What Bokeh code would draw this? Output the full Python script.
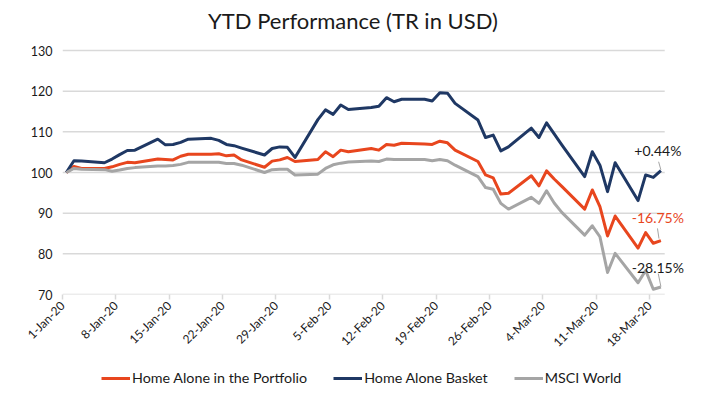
import pandas as pd
from bokeh.plotting import figure
from bokeh.layouts import column
from bokeh.models import Range1d, FixedTicker, Legend, LegendItem, Label
from bokeh.embed import file_html
from bokeh.resources import INLINE
from math import pi

dates = (["2020-01-%02d" % d for d in [1, 2, 3, 6, 7, 8, 9, 10, 13, 14, 15, 16, 17, 20, 21, 22, 23, 24, 27, 28, 29, 30, 31]]
         + ["2020-02-%02d" % d for d in [3, 4, 5, 6, 7, 10, 11, 12, 13, 14, 17, 18, 19, 20, 21, 24, 25, 26, 27, 28]]
         + ["2020-03-%02d" % d for d in [2, 3, 4, 5, 6, 9, 10, 11, 12, 13, 16, 17, 18, 19]])

basket = [100, 102.9, 102.8, 102.4, 103.3, 104.4, 105.4, 105.5, 108.2, 106.8, 106.9, 107.4, 108.2, 108.4, 107.9,
          106.9, 106.6, 106.0, 104.3, 105.9, 106.3, 106.2, 103.7,
          113.0, 115.4, 114.3, 116.6, 115.5, 116.0, 116.3, 118.4, 117.4, 118.0, 118.0, 117.6, 119.6, 119.5, 117.0,
          112.9, 108.6, 109.2, 105.3, 106.3,
          110.9, 108.6, 112.2, 109.5, 106.8, 99.0, 105.1, 101.8, 95.3, 102.4, 93.1, 99.4, 98.8, 100.44]

portfolio = [100, 101.5, 101.0, 101.0, 101.4, 102.0, 102.5, 102.4, 103.3, 103.2, 103.1, 104.0, 104.5, 104.5, 104.6,
             104.1, 104.3, 103.1, 101.3, 102.8, 103.1, 103.7, 102.7,
             103.2, 105.1, 103.9, 105.5, 105.1, 105.9, 105.5, 106.9, 106.7, 107.2, 107.0, 106.9, 107.7, 107.3, 105.5,
             102.7, 99.4, 98.7, 94.7, 94.9,
             99.2, 96.7, 100.4, 98.4, 96.6, 91.0, 95.7, 91.6, 84.4, 89.3, 81.4, 85.2, 82.6, 83.25]

msci = [100, 101.0, 100.8, 100.7, 100.3, 100.6, 101.0, 101.2, 101.6, 101.6, 101.7, 102.0, 102.5, 102.5, 102.5,
        102.2, 102.2, 101.8, 100.0, 100.7, 100.8, 100.8, 99.4,
        99.6, 101.0, 101.9, 102.3, 102.6, 102.8, 102.7, 103.3, 103.2, 103.2, 103.2, 102.9, 103.2, 102.9, 101.8,
        99.0, 96.3, 95.9, 92.4, 91.0,
        93.9, 92.4, 95.5, 92.5, 90.2, 84.6, 86.9, 84.2, 75.4, 80.1, 72.9, 75.9, 71.3, 71.85]

tick_dates = ["2020-01-01", "2020-01-08", "2020-01-15", "2020-01-22", "2020-01-29", "2020-02-05",
              "2020-02-12", "2020-02-19", "2020-02-26", "2020-03-04", "2020-03-11", "2020-03-18"]
tick_labels = ["1-Jan-20", "8-Jan-20", "15-Jan-20", "22-Jan-20", "29-Jan-20", "5-Feb-20",
               "12-Feb-20", "19-Feb-20", "26-Feb-20", "4-Mar-20", "11-Mar-20", "18-Mar-20"]
y_ticks = [70, 80, 90, 100, 110, 120, 130]

title = "YTD Performance (TR in USD)"
series_names = ["Home Alone in the Portfolio", "Home Alone Basket", "MSCI World"]
colors = ["#E8461E", "#1F3864", "#A5A5A5"]

t0 = pd.Timestamp("2020-01-01")
x = [(pd.Timestamp(d) - t0).days + 0.5 for d in dates]
tx = [(pd.Timestamp(d) - t0).days for d in tick_dates]
x_end = (pd.Timestamp("2020-03-20") - t0).days

FONT = "Lato"
TXT = "#1a1a1a"
GRID = "#D9D9D9"

# layout constants (pixels)
FRAME_W, FRAME_H = 631, 294
TOP_GAP = 50            # space above the 130 line, used for the title
BOTTOM = 66             # x-axis panel
px_per_unit = (FRAME_H - TOP_GAP) / (max(y_ticks) - min(y_ticks))
px_per_day = 7.623
y_top = max(y_ticks) + TOP_GAP / px_per_unit
x_right = FRAME_W / px_per_day

p = figure(width=697, height=FRAME_H + BOTTOM, output_backend="svg", toolbar_location=None,
           x_range=Range1d(0, x_right), y_range=Range1d(min(y_ticks), y_top),
           min_border_left=62, min_border_right=4, min_border_top=0, min_border_bottom=BOTTOM)
p.outline_line_color = None
p.background_fill_color = "white"

# horizontal grid lines over the date span only
p.xgrid.grid_line_color = None
p.ygrid.grid_line_color = None
p.segment([0] * len(y_ticks), y_ticks, [x_end] * len(y_ticks), y_ticks, line_color=GRID, line_width=1.5)

# y axis
p.yaxis.ticker = FixedTicker(ticks=y_ticks)
p.yaxis.axis_line_color = None
p.yaxis.major_tick_line_color = None
p.yaxis.major_tick_out = 0
p.yaxis.major_tick_in = 0
p.yaxis.minor_tick_line_color = None
p.yaxis.major_label_standoff = 10
p.yaxis.major_label_text_font = FONT
p.yaxis.major_label_text_font_size = "12.5px"
p.yaxis.major_label_text_color = TXT

# x axis
p.xaxis.ticker = FixedTicker(ticks=tx)
p.xaxis.major_label_overrides = {t: l for t, l in zip(tx, tick_labels)}
p.xaxis.major_label_orientation = pi / 4
p.xaxis.axis_line_color = None
p.xaxis.major_tick_line_color = GRID
p.xaxis.major_tick_line_width = 1.5
p.xaxis.major_tick_out = 5
p.xaxis.major_tick_in = 0
p.xaxis.minor_tick_line_color = None
p.xaxis.major_label_standoff = 4
p.xaxis.major_label_text_font = FONT
p.xaxis.major_label_text_font_size = "12px"
p.xaxis.major_label_text_color = TXT

for vals, c in zip([portfolio, basket, msci], colors):
    p.line(x, vals, line_color=c, line_width=3, line_join="round")

# title
p.add_layout(Label(x=38.1, y=max(y_ticks) + 30 / px_per_unit, text=title, text_align="center",
                   text_baseline="middle", text_font=FONT, text_font_size="22px", text_color=TXT))

# end labels
last_x = x[-1]
label_specs = [(basket[-1], 4.9, TXT), (portfolio[-1], 5.7, "#E8461E"), (msci[-1], 4.8, TXT)]
for v, dy, col in label_specs:
    txt = "%+.2f%%" % (v - 100)
    p.add_layout(Label(x=last_x - 0.4, y=v + dy, text=txt, text_align="center", text_baseline="middle",
                       text_font=FONT, text_font_size="14px", text_color=col))
seg_x0 = [last_x - 0.3, last_x - 0.45, last_x - 0.35]
seg_y0 = [basket[-1] + 2.2, portfolio[-1] + 3.0, msci[-1] + 3.3]
seg_x1 = [last_x, last_x - 0.25, last_x]
seg_y1 = [basket[-1] + 0.2, portfolio[-1] + 0.5, msci[-1] + 0.1]
p.segment(seg_x0, seg_y0, seg_x1, seg_y1, line_color="#A5A5A5", line_width=1)

# legend strip below the chart (its frame is aligned with the chart frame by the column layout)
Q_H = 30
q = figure(width=697, height=Q_H, output_backend="svg", toolbar_location=None,
           x_axis_location=None, y_axis_location=None,
           x_range=Range1d(0, x_right), y_range=Range1d(0, 1),
           min_border_left=0, min_border_right=0, min_border_top=0, min_border_bottom=0)
q.outline_line_color = None
q.xgrid.grid_line_color = None
q.ygrid.grid_line_color = None
leg_renderers = [q.line(x, vals, line_color=c, line_width=3) for vals, c in zip([portfolio, basket, msci], colors)]
legend = Legend(items=[LegendItem(label=n, renderers=[r]) for n, r in zip(series_names, leg_renderers)],
                orientation="horizontal", location=(39, 4),
                border_line_color=None, background_fill_alpha=0,
                label_text_font=FONT, label_text_font_size="14.3px", label_text_color=TXT,
                glyph_width=29, glyph_height=12, label_standoff=2, spacing=26,
                margin=0, padding=0)
q.add_layout(legend)

layout = column(p, q, spacing=0)
open("out.html", "w").write(file_html(layout, INLINE))
